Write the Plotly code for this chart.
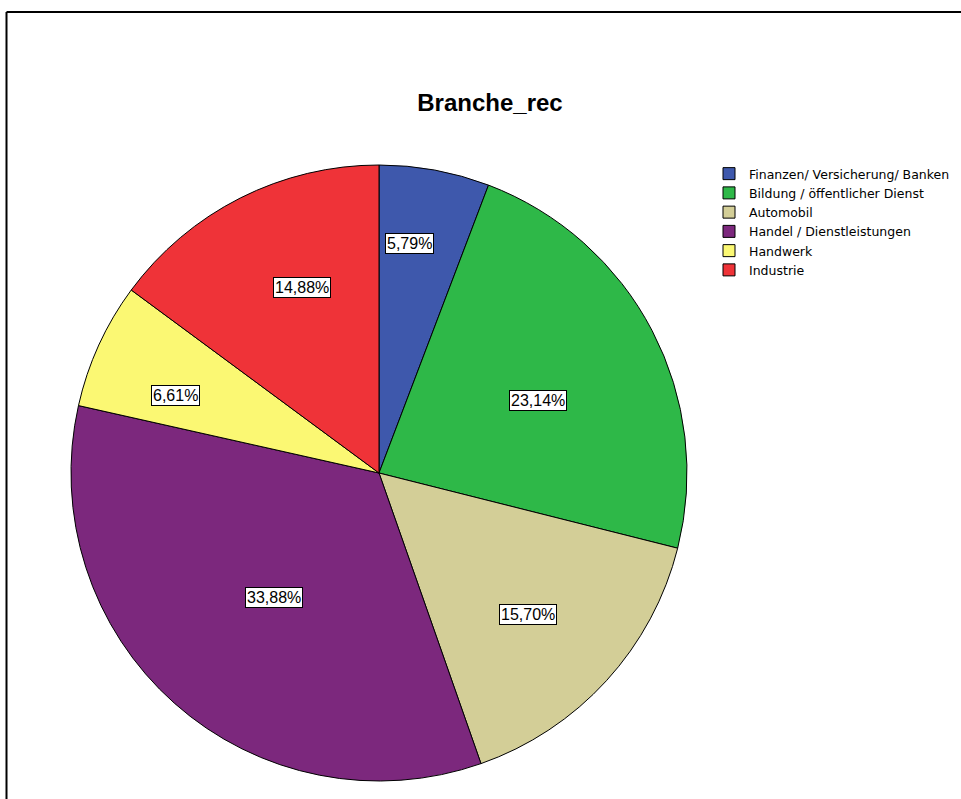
import math
import plotly.graph_objects as go

# ---- data ----
categories = ["Finanzen/ Versicherung/ Banken", "Bildung / öffentlicher Dienst", "Automobil",
              "Handel / Dienstleistungen", "Handwerk", "Industrie"]
counts = [7, 28, 19, 41, 8, 18]
title_text = "Branche_rec"

# ---- style ----
colors = ["#3E58AC", "#2EB848", "#D3CE97", "#7C287D", "#FBF873", "#EF3338"]
label_radius = [0.75, 0.567, 0.668, 0.528, 0.708, 0.653]   # fraction of pie radius
label_angle_shift = [-2.9, 3.1, 1.2, -1.4, -3.8, 4.3]       # degrees from slice mid-angle

W, H = 961, 799
cx_px, cy_px, R_px = 379, 473, 308
dom_x = [(cx_px - R_px) / W, (cx_px + R_px) / W]
dom_y = [(H - cy_px - R_px) / H, (H - cy_px + R_px) / H]

fig = go.Figure(go.Pie(
    labels=categories, values=counts, sort=False, direction="clockwise", rotation=0,
    marker=dict(colors=colors, line=dict(color="black", width=1)),
    textinfo="none", hoverinfo="label+percent",
    domain=dict(x=dom_x, y=dom_y),
))

total = sum(counts)
cum = 0
annotations = []
for i, v in enumerate(counts):
    frac = v / total
    mid = (cum + frac / 2) * 2 * math.pi + math.radians(label_angle_shift[i])
    cum += frac
    r = label_radius[i] * R_px
    x = (cx_px + r * math.sin(mid)) / W
    y = (H - cy_px + r * math.cos(mid)) / H
    txt = f"{frac * 100:.2f}%".replace(".", ",")
    annotations.append(dict(
        x=x, y=y, xref="paper", yref="paper", text=txt, showarrow=False,
        font=dict(family="Liberation Sans, Arial, sans-serif", size=16, color="black"),
        bgcolor="white", bordercolor="black", borderwidth=1, borderpad=1,
        xanchor="center", yanchor="middle",
    ))

fig.update_layout(
    width=W, height=H, margin=dict(l=0, r=0, t=0, b=0),
    paper_bgcolor="white", plot_bgcolor="white",
    title=dict(text=f"<b>{title_text}</b>", x=490 / W, xanchor="center", y=1 - 103 / H, yanchor="middle",
               font=dict(family="Liberation Sans, Arial, sans-serif", size=24, color="black")),
    legend=dict(x=709 / W, xanchor="left", y=1 - 159 / H, yanchor="top",
                font=dict(family="DejaVu Sans, sans-serif", size=12.5, color="black"),
                bgcolor="rgba(0,0,0,0)", traceorder="normal", itemclick=False),
    annotations=annotations,
    shapes=[
        dict(type="line", xref="paper", yref="paper", x0=6.5 / W, x1=1, y0=1 - 12 / H, y1=1 - 12 / H,
             line=dict(color="black", width=2)),
        dict(type="line", xref="paper", yref="paper", x0=6.5 / W, x1=6.5 / W, y0=0, y1=1 - 12 / H,
             line=dict(color="black", width=2)),
    ],
)

fig.write_html("out.html")
